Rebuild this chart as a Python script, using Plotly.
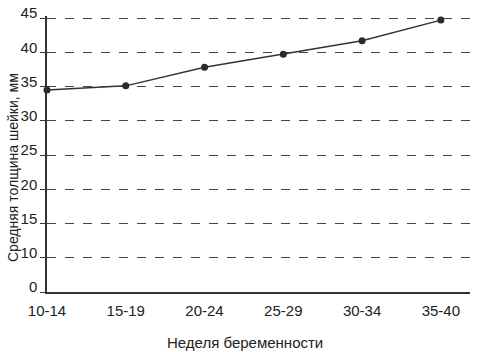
import plotly.graph_objects as go

weeks = ["10-14", "15-19", "20-24", "25-29", "30-34", "35-40"]
thickness = [34.5, 35.1, 37.8, 39.7, 41.7, 44.7]
y_tick_vals = [5, 10, 15, 20, 25, 30, 35, 40, 45]
y_tick_text = ["0", "10", "15", "20", "25", "30", "35", "40", "45"]
x_title = "Неделя беременности"
y_title = "Средняя толщина шейки, мм"

FONT = "Liberation Sans Narrow, Arial Narrow, Liberation Sans, sans-serif"
x_pos = list(range(len(weeks)))

L, R, T, B, W, H = 47, 16, 16, 60, 486, 352
pw, ph = W - L - R, H - T - B


def px_to_paper(px, py):
    return (px - L) / pw, (H - B - py) / ph


fig = go.Figure()
fig.add_trace(go.Scatter(
    x=x_pos, y=thickness, mode="lines+markers",
    line=dict(color="#333333", width=1.5),
    marker=dict(color="#2a2a2a", size=7),
    cliponaxis=False, showlegend=False,
))

xt_x, xt_y = px_to_paper(245, 342)
yt_x, yt_y = px_to_paper(13, 168)

fig.update_layout(
    width=W, height=H,
    margin=dict(l=L, r=R, t=T, b=B),
    paper_bgcolor="white", plot_bgcolor="white",
    font=dict(family=FONT, size=15, color="#222222"),
    xaxis=dict(
        range=[0, 5.37], tickvals=x_pos, ticktext=weeks,
        showgrid=False, zeroline=False, showline=True, automargin=False,
        linecolor="#333333", linewidth=1.5, ticks="", ticklabelstandoff=4,
    ),
    yaxis=dict(
        range=[5, 45.3], tickvals=y_tick_vals, ticktext=y_tick_text,
        showgrid=True, gridcolor="#444444", griddash="dash", gridwidth=1,
        zeroline=False, showline=True, linecolor="#333333", linewidth=1.5,
        ticks="outside", ticklen=5, tickcolor="#333333", automargin=False,
        ticklabelstandoff=0, ticklabelshift=-5,
    ),
    annotations=[
        dict(text=x_title, x=xt_x, y=xt_y, xref="paper", yref="paper",
             xanchor="center", yanchor="middle", showarrow=False,
             font=dict(size=15)),
        dict(text=y_title, textangle=-90, x=yt_x, y=yt_y, xref="paper",
             yref="paper", xanchor="center", yanchor="middle",
             showarrow=False, font=dict(size=14)),
    ],
)

fig.write_html("out.html")
